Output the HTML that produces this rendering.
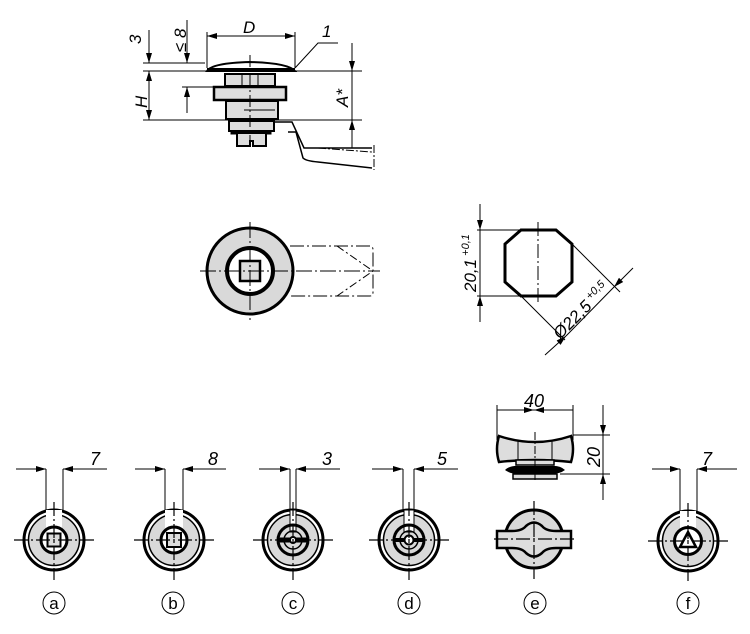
<!DOCTYPE html>
<html><head><meta charset="utf-8"><style>
html,body{margin:0;padding:0;background:#fff;}
svg{display:block;}
text{font-family:"Liberation Sans",sans-serif;font-style:italic;fill:#000;}
.c{font-style:normal;}
</style></head><body>
<svg width="750" height="634" viewBox="0 0 750 634" xmlns="http://www.w3.org/2000/svg">
<defs>
<marker id="ar" viewBox="0 0 10 6" refX="10" refY="3" markerWidth="11" markerHeight="6" orient="auto" markerUnits="userSpaceOnUse"><path d="M0,0L10,3L0,6z" fill="#000"/></marker>
<g id="knob">
<circle r="30" fill="#fff" stroke="#000" stroke-width="3"/>
<circle r="25.5" fill="#d9d9d9" stroke="#000" stroke-width="1.5"/>
</g>
<g id="cl">
<path d="M-40,0H40M0,-38V40" stroke="#000" stroke-width="1.2" stroke-dasharray="14,3,2,3"/>
</g>
</defs>
<g fill="none" stroke="#000" stroke-width="1">
<path d="M143,63H205M143,71H362M143,120H362M182,87H215"/>
<path d="M149,30V63" marker-end="url(#ar)"/>
<path d="M149,120V71" marker-end="url(#ar)"/><path d="M149,71V120" marker-end="url(#ar)"/>
<path d="M187,20V63" marker-end="url(#ar)"/><path d="M187,113V87" marker-end="url(#ar)"/>
<path d="M207,32V68M295,32V68"/>
<path d="M207,36H295" marker-end="url(#ar)"/><path d="M295,36H207" marker-end="url(#ar)"/>
<path d="M295,68L318,43H338"/>
<path d="M352,43V71" marker-end="url(#ar)"/><path d="M352,148V120" marker-end="url(#ar)"/><path d="M352,71V120"/>
<path d="M207,71Q212,63 250,62Q288,63 295,71Z" fill="#fff" stroke-width="2"/>
<rect x="207" y="68" width="88" height="4" fill="#000" stroke="none"/>
<rect x="225" y="74" width="50" height="12" fill="#ddd" stroke-width="2"/>
<path d="M242,74V86M258,74V86"/>
<rect x="214" y="87" width="72" height="13" fill="#ddd" stroke-width="2.5"/>
<rect x="226" y="101" width="52" height="18" fill="#ddd" stroke-width="2"/>
<path d="M244,110H275"/>
<rect x="229" y="121" width="45" height="10" fill="#ddd" stroke-width="2"/>
<rect x="231" y="131" width="40" height="3" fill="#000"/>
<path d="M237,134V146H250V141H253V146H266V134" fill="#ddd" stroke-width="2"/>
<path d="M274,122H292L304,148H372M288,132H296L303,158Q306,161 318,162L372,168" stroke-width="1.5"/>
<path d="M318,148L372,152M374,145V170" stroke-dasharray="8,2,2,2"/>
<path d="M250,55V150" stroke-dasharray="12,3,2,3"/>
<circle cx="250" cy="271" r="43" fill="#d9d9d9" stroke-width="3"/>
<circle cx="250" cy="271" r="23" fill="#fff" stroke-width="4"/>
<rect x="240" y="261" width="20" height="20" fill="#ddd" stroke-width="2.5"/>
<path d="M290,246H370Q373,246 373,250V292Q373,296 370,296H290" stroke-dasharray="14,3,2,3"/>
<path d="M337,246L373,271L337,296" stroke-dasharray="8,3,2,3"/>
<path d="M200,271H380M250,222V320" stroke-dasharray="16,3,2,3"/>
<path d="M521,230H556L572,244V282L556,296H521L505,282V244Z" fill="#fff" stroke-width="3"/>
<path d="M538,222V304" stroke-dasharray="14,3,2,3"/>
<path d="M477,230H521M477,296H521"/>
<path d="M480,204V230" marker-end="url(#ar)"/><path d="M480,322V296" marker-end="url(#ar)"/><path d="M480,230V296"/>
<path d="M572,244L620,292M521,296L565,340"/>
<path d="M633,268L614,287" marker-end="url(#ar)"/><path d="M545,355L566,336" marker-end="url(#ar)"/><path d="M614,287L566,336"/>
</g>
<text x="0" y="0" font-size="17" transform="translate(476,292) rotate(-90)">20,1<tspan font-size="11" dy="-7"> +0,1</tspan></text>
<text x="0" y="0" font-size="17" transform="translate(560,340) rotate(-45)">Ø22,5<tspan font-size="11" dy="-7"> +0,5</tspan></text>
<text x="243" y="33" font-size="17">D</text>
<text x="322" y="37" font-size="17">1</text>
<text x="0" y="0" font-size="17" transform="translate(141,44) rotate(-90)">3</text>
<text x="0" y="0" font-size="17" transform="translate(147,108) rotate(-90)">H</text>
<text x="0" y="0" font-size="17" transform="translate(186,52) rotate(-90)">≤ 8</text>
<text x="0" y="0" font-size="17" transform="translate(348,107) rotate(-90)">A*</text>

<g fill="none" stroke="#000" stroke-width="1">
<path d="M16,469H46" marker-end="url(#ar)"/><path d="M107,469H63" marker-end="url(#ar)"/><path d="M46,469V530M63,469V530"/>
<path d="M135,469H165" marker-end="url(#ar)"/><path d="M226,469H183" marker-end="url(#ar)"/><path d="M165,469V530M183,469V530"/>
<path d="M259,469H290" marker-end="url(#ar)"/><path d="M340,469H296" marker-end="url(#ar)"/><path d="M290,469V530M296,469V530"/>
<path d="M372,469H403" marker-end="url(#ar)"/><path d="M458,469H414" marker-end="url(#ar)"/><path d="M403,469V530M414,469V530"/>
<path d="M652,469H680" marker-end="url(#ar)"/><path d="M737,469H697" marker-end="url(#ar)"/><path d="M680,469V530M697,469V530"/>
<path d="M497,410H534" marker-end="url(#ar)"/><path d="M573,410H534" marker-end="url(#ar)"/><path d="M497,405V440M573,405V440"/>
<path d="M573,435H610M560,474H610"/>
<path d="M603,405V435" marker-end="url(#ar)"/><path d="M603,500V474" marker-end="url(#ar)"/><path d="M603,435V474"/>
</g>
<g transform="translate(54,540)"><use href="#knob"/><rect x="-8" y="-30" width="16" height="20" fill="#fff"/><circle r="13" fill="#fff" stroke="#000" stroke-width="3"/><rect x="-6.5" y="-6.5" width="13" height="13" fill="#ddd" stroke="#000" stroke-width="2"/><use href="#cl"/></g>
<g transform="translate(174,540)"><use href="#knob"/><rect x="-9" y="-30" width="18" height="20" fill="#fff"/><circle r="13" fill="#fff" stroke="#000" stroke-width="3"/><rect x="-7" y="-7" width="14" height="14" fill="#ddd" stroke="#000" stroke-width="2"/><use href="#cl"/></g>
<g transform="translate(293,540)"><use href="#knob"/><rect x="-3" y="-30" width="6" height="22" fill="#fff" stroke="#000" stroke-width="1"/><path d="M-15,0A15,15 0 0 1 15,0M-15,0A15,15 0 0 0 15,0" fill="none" stroke="#000" stroke-width="3"/><path d="M-15,0H15" stroke="#000" stroke-width="5"/><path d="M-9,0A9,9 0 0 1 9,0M-9,0A9,9 0 0 0 9,0" fill="none" stroke="#000" stroke-width="1.5"/><circle r="3" fill="#fff" stroke="#000" stroke-width="2"/><use href="#cl"/></g>
<g transform="translate(409,540)"><use href="#knob"/><rect x="-5" y="-30" width="10" height="22" fill="#fff" stroke="#000" stroke-width="1"/><path d="M-15,0A15,15 0 0 1 15,0M-15,0A15,15 0 0 0 15,0" fill="none" stroke="#000" stroke-width="3"/><path d="M-15,0H15" stroke="#000" stroke-width="4"/><circle r="9" fill="none" stroke="#000" stroke-width="1.5"/><circle r="4.5" fill="#fff" stroke="#000" stroke-width="2"/><use href="#cl"/></g>
<g transform="translate(534,539)">
<circle r="29" fill="#d9d9d9" stroke="#000" stroke-width="3"/>
<path d="M-37,-8H-22Q-12,-8 -8,-13Q0,-20 8,-13Q12,-8 22,-8H37V9H22Q12,9 8,14Q0,21 -8,14Q-12,9 -22,9H-37Z" fill="#ddd" stroke="#000" stroke-width="2.5"/>
<use href="#cl"/>
</g>
<path d="M499,436Q535,448 571,436Q575,449 571,462Q535,458 499,462Q495,449 499,436Z" fill="#ddd" stroke="#000" stroke-width="2.5"/>
<path d="M518,440V460M552,440V460" stroke="#000" stroke-width="1"/>
<rect x="516" y="460" width="38" height="5" fill="#ddd" stroke="#000" stroke-width="1.5"/>
<path d="M505,470Q510,465 520,466H550Q560,465 565,470Q560,474 550,474H520Q510,474 505,470Z" fill="#000"/>
<rect x="513" y="474" width="44" height="5" fill="#ddd" stroke="#000" stroke-width="1.5"/>
<path d="M535,432V480" stroke="#000" stroke-width="1" stroke-dasharray="8,2,2,2"/>
<g transform="translate(688,541)"><use href="#knob"/><rect x="-8" y="-30" width="16" height="20" fill="#fff"/><circle r="13.5" fill="#fff" stroke="#000" stroke-width="3"/><path d="M0,-9L8,6H-8Z" fill="#fff" stroke="#000" stroke-width="2.5"/><use href="#cl"/></g>

<g font-size="18">
<text x="90" y="465">7</text>
<text x="208" y="465">8</text>
<text x="322" y="465">3</text>
<text x="437" y="465">5</text>
<text x="524" y="407">40</text>
<text x="0" y="0" transform="translate(600,467) rotate(-90)">20</text>
<text x="702" y="465">7</text>
</g>
<g fill="none" stroke="#000" stroke-width="1">
<circle cx="54" cy="603" r="11"/><circle cx="173" cy="603" r="11"/><circle cx="293" cy="603" r="11"/><circle cx="409" cy="603" r="11"/><circle cx="535" cy="603" r="11"/><circle cx="688" cy="603" r="11"/>
</g>
<g font-size="17" text-anchor="middle">
<text class="c" x="54" y="609">a</text><text class="c" x="173" y="609">b</text><text class="c" x="293" y="609">c</text><text class="c" x="409" y="609">d</text><text class="c" x="535" y="609">e</text><text class="c" x="688" y="609">f</text>
</g>
</svg>
</body></html>
